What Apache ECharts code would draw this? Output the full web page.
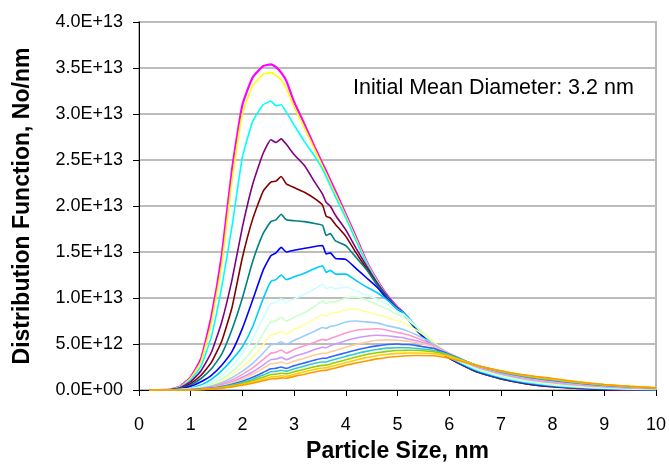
<!DOCTYPE html>
<html>
<head>
<meta charset="utf-8">
<script src="https://cdn.jsdelivr.net/npm/echarts/dist/echarts.min.js"></script>
<style>
html,body{margin:0;padding:0;background:#fff;}
#chart{width:669px;height:468px;}
</style>
</head>
<body>
<div id="chart"></div>
<script>
// Particle size, nm
const xs = [0.2, 0.6, 0.8, 1.0, 1.2, 1.4, 1.6, 1.8, 2.0, 2.2, 2.4, 2.55, 2.65, 2.75, 2.85, 3.0, 3.2, 3.4, 3.55, 3.62, 3.7, 3.8, 4.0, 4.2, 4.4, 4.6, 4.8, 5.0, 5.1, 5.2, 5.4, 5.7, 6.0, 6.5, 7.0, 7.5, 8.0, 8.5, 9.0, 9.5, 10.0];
// Distribution function values, in units of 1e12 No/nm
const UNIT = 1e12;
const magenta = [0, 0.05, 0.4, 1.4, 3.4, 8.0, 14.6, 24.0, 31.0, 34.0, 35.2, 35.4, 35.1, 34.5, 33.6, 31.3, 28.9, 26.4, 24.6, 23.8, 22.8, 21.6, 19.1, 16.6, 14.0, 12.0, 10.3, 9.0, 8.5, 7.9, 6.5, 4.8, 3.5, 2.1, 1.25, 0.7, 0.38, 0.2, 0.1, 0.05, 0.02];
const yellow = [0, 0.05, 0.35, 1.3, 3.1, 7.3, 13.6, 22.8, 30.0, 33.1, 34.3, 34.5, 34.2, 33.7, 32.8, 30.8, 28.5, 26.1, 24.3, 23.5, 22.5, 21.3, 18.9, 16.4, 13.9, 11.9, 10.2, 8.9, 8.5, 7.9, 6.5, 4.8, 3.5, 2.12, 1.27, 0.72, 0.4, 0.21, 0.11, 0.055, 0.025];
const cyan = [0, 0.04, 0.3, 1.1, 2.6, 5.8, 11.2, 17.8, 25.3, 29.2, 31.0, 31.4, 30.9, 31.0, 30.2, 28.8, 27.0, 25.4, 24.0, 23.2, 22.2, 21.0, 18.7, 16.2, 13.8, 11.8, 10.2, 8.9, 8.5, 7.9, 6.5, 4.8, 3.5, 2.13, 1.29, 0.74, 0.42, 0.23, 0.12, 0.06, 0.03];
const purple = [0, 0.03, 0.25, 0.9, 2.1, 4.1, 7.4, 12.0, 17.7, 22.4, 25.7, 27.2, 26.9, 27.3, 26.7, 25.6, 24.4, 22.6, 21.3, 20.4, 20.0, 19.0, 17.4, 15.4, 13.5, 11.7, 10.2, 8.9, 8.5, 7.8, 6.4, 4.75, 3.5, 2.12, 1.27, 0.72, 0.4, 0.21, 0.11, 0.055, 0.025];
const maroon = [0, 0.02, 0.2, 0.7, 1.6, 3.0, 5.3, 9.0, 14.4, 18.6, 21.6, 22.6, 22.7, 23.2, 22.4, 22.0, 21.5, 20.8, 20.1, 18.9, 18.7, 18.0, 16.7, 14.9, 13.2, 11.5, 10.1, 8.8, 8.4, 7.7, 6.3, 4.7, 3.45, 2.05, 1.2, 0.66, 0.35, 0.18, 0.09, 0.04, 0.015];
const teal = [0, 0.02, 0.15, 0.55, 1.25, 2.3, 3.9, 6.6, 10.0, 14.0, 17.0, 18.3, 18.5, 19.1, 18.5, 18.4, 18.3, 18.1, 17.9, 16.8, 17.0, 16.2, 15.7, 14.4, 13.1, 11.5, 10.1, 8.8, 8.4, 7.7, 6.3, 4.7, 3.5, 2.1, 1.26, 0.72, 0.4, 0.21, 0.11, 0.055, 0.025];
const blue = [0, 0.01, 0.1, 0.4, 0.9, 1.6, 2.7, 4.2, 6.7, 9.8, 13.0, 14.6, 14.9, 15.5, 15.0, 15.2, 15.4, 15.6, 15.7, 14.8, 14.9, 14.3, 14.2, 13.2, 12.2, 11.2, 9.9, 8.8, 8.5, 7.8, 6.4, 4.75, 3.5, 2.15, 1.3, 0.75, 0.43, 0.24, 0.13, 0.065, 0.03];
const skyblue = [0, 0.01, 0.07, 0.22, 0.55, 1.15, 2.1, 3.3, 4.7, 6.9, 9.9, 11.8, 12.0, 12.5, 12.0, 12.3, 12.7, 13.2, 13.5, 12.8, 13.0, 12.6, 12.6, 11.9, 11.2, 10.6, 9.8, 8.8, 8.5, 7.9, 6.6, 4.9, 3.55, 2.2, 1.35, 0.8, 0.47, 0.27, 0.15, 0.08, 0.04];
const lightcyan = [0, 0.01, 0.05, 0.16, 0.4, 0.85, 1.55, 2.6, 4.0, 5.6, 7.8, 9.4, 9.5, 9.9, 9.5, 9.9, 10.4, 11.0, 11.5, 11.0, 11.2, 11.0, 11.2, 10.8, 10.3, 9.9, 9.3, 8.5, 8.3, 7.8, 6.7, 5.1, 3.65, 2.3, 1.45, 0.9, 0.55, 0.33, 0.2, 0.11, 0.06];
const lightgreen = [0, 0.01, 0.04, 0.12, 0.3, 0.65, 1.2, 2.0, 3.1, 4.4, 6.1, 7.4, 7.5, 7.9, 7.5, 7.9, 8.4, 9.1, 9.7, 9.4, 9.6, 9.6, 10.0, 10.1, 9.8, 9.3, 8.8, 8.2, 8.0, 7.6, 6.7, 5.2, 3.75, 2.4, 1.55, 1.0, 0.63, 0.39, 0.24, 0.14, 0.08];
const lightyellow = [0, 0.01, 0.03, 0.09, 0.24, 0.52, 0.98, 1.65, 2.5, 3.55, 4.9, 6.0, 6.1, 6.4, 6.1, 6.6, 7.1, 7.7, 8.2, 8.0, 8.3, 8.4, 8.7, 8.8, 8.5, 8.2, 7.9, 7.5, 7.35, 7.05, 6.4, 5.2, 3.85, 2.5, 1.65, 1.08, 0.7, 0.45, 0.28, 0.17, 0.1];
const lightblue = [0, 0.01, 0.02, 0.07, 0.19, 0.42, 0.8, 1.35, 2.05, 2.9, 4.0, 4.9, 5.0, 5.25, 4.95, 5.4, 5.9, 6.4, 6.8, 6.7, 6.9, 7.0, 7.4, 7.5, 7.4, 7.3, 7.0, 6.75, 6.6, 6.4, 5.9, 5.0, 3.9, 2.55, 1.72, 1.15, 0.78, 0.51, 0.33, 0.2, 0.12];
const pink = [0, 0.005, 0.02, 0.06, 0.16, 0.35, 0.65, 1.1, 1.7, 2.4, 3.3, 4.0, 4.1, 4.35, 4.0, 4.4, 4.8, 5.2, 5.5, 5.4, 5.6, 5.8, 6.2, 6.5, 6.6, 6.65, 6.5, 6.25, 6.15, 6.0, 5.6, 4.85, 3.95, 2.62, 1.8, 1.22, 0.85, 0.57, 0.38, 0.24, 0.14];
const lavender = [0, 0.005, 0.01, 0.05, 0.13, 0.29, 0.54, 0.9, 1.38, 1.95, 2.7, 3.3, 3.35, 3.55, 3.3, 3.65, 4.0, 4.4, 4.65, 4.6, 4.8, 5.0, 5.35, 5.65, 5.85, 5.95, 5.9, 5.75, 5.7, 5.55, 5.3, 4.75, 4.0, 2.68, 1.86, 1.3, 0.92, 0.63, 0.42, 0.28, 0.17];
const peach = [0, 0.005, 0.01, 0.04, 0.11, 0.25, 0.47, 0.78, 1.2, 1.7, 2.35, 2.85, 2.9, 3.05, 2.85, 3.15, 3.45, 3.8, 4.0, 4.0, 4.15, 4.3, 4.65, 4.95, 5.2, 5.4, 5.45, 5.4, 5.35, 5.3, 5.1, 4.7, 3.95, 2.72, 1.92, 1.36, 0.98, 0.68, 0.46, 0.31, 0.19];
const royalblue = [0, 0.005, 0.01, 0.03, 0.09, 0.2, 0.38, 0.63, 0.96, 1.38, 1.9, 2.3, 2.35, 2.5, 2.35, 2.65, 2.95, 3.25, 3.45, 3.45, 3.6, 3.75, 4.05, 4.35, 4.6, 4.8, 4.95, 5.0, 4.95, 4.95, 4.8, 4.5, 3.9, 2.74, 1.97, 1.42, 1.04, 0.73, 0.5, 0.33, 0.2];
const turquoise = [0, 0.005, 0.01, 0.03, 0.08, 0.17, 0.32, 0.54, 0.82, 1.18, 1.62, 1.98, 2.02, 2.15, 2.05, 2.3, 2.6, 2.9, 3.05, 3.05, 3.2, 3.35, 3.65, 3.95, 4.2, 4.4, 4.55, 4.6, 4.6, 4.6, 4.5, 4.3, 3.8, 2.74, 2.0, 1.47, 1.09, 0.77, 0.53, 0.36, 0.22];
const green = [0, 0.005, 0.005, 0.02, 0.06, 0.14, 0.27, 0.46, 0.7, 1.0, 1.38, 1.68, 1.72, 1.82, 1.75, 1.98, 2.25, 2.52, 2.68, 2.7, 2.82, 2.98, 3.28, 3.58, 3.85, 4.05, 4.2, 4.3, 4.3, 4.32, 4.3, 4.15, 3.75, 2.73, 2.03, 1.52, 1.14, 0.81, 0.56, 0.37, 0.23];
const gold = [0, 0.005, 0.005, 0.02, 0.05, 0.12, 0.23, 0.39, 0.6, 0.86, 1.17, 1.42, 1.45, 1.55, 1.5, 1.72, 1.98, 2.24, 2.4, 2.42, 2.54, 2.68, 2.98, 3.26, 3.52, 3.72, 3.88, 3.98, 4.0, 4.02, 4.02, 3.95, 3.65, 2.72, 2.07, 1.56, 1.19, 0.85, 0.58, 0.39, 0.24];
const orange = [0, 0.004, 0.004, 0.015, 0.045, 0.1, 0.2, 0.34, 0.52, 0.74, 1.0, 1.2, 1.23, 1.32, 1.28, 1.48, 1.72, 1.96, 2.12, 2.15, 2.26, 2.4, 2.68, 2.94, 3.16, 3.38, 3.54, 3.64, 3.68, 3.72, 3.75, 3.72, 3.45, 2.7, 2.1, 1.6, 1.25, 0.88, 0.6, 0.4, 0.25];

const seriesList = [magenta, yellow, cyan, purple, maroon, teal, blue, skyblue, lightcyan, lightgreen, lightyellow, lightblue, pink, lavender, peach, royalblue, turquoise, green, gold, orange];
const colors = ['#ff00ff','#ffff00','#00ffff','#800080','#800000','#008080','#0000ff','#00ccff','#ccffff','#ccffcc','#ffff99','#99ccff','#ff99cc','#cc99ff','#ffcc99','#3366ff','#33cccc','#99cc00','#ffcc00','#ff9900'];

const xTicks = [0,1,2,3,4,5,6,7,8,9,10];
const annotation = 'Initial Mean Diameter: 3.2 nm';
const FONT = "'Liberation Sans', Arial, sans-serif";

function sci(v) {
  if (v === 0) return '0.0E+00';
  const e = Math.floor(Math.log10(v) + 1e-9);
  const m = v / Math.pow(10, e);
  const es = (e < 0 ? '-' : '+') + String(Math.abs(e)).padStart(2, '0');
  return m.toFixed(1) + 'E' + es;
}

const chart = echarts.init(document.getElementById('chart'), null, {renderer: 'canvas'});
const option = {
  animation: false,
  backgroundColor: '#ffffff',
  grid: {left: 139, right: 11, top: 22, bottom: 78, show: true, borderColor: '#b8b8b8', borderWidth: 2, backgroundColor: 'transparent'},
  xAxis: {
    type: 'value', min: 0, max: 10, interval: 1,
    name: 'Particle Size, nm', nameLocation: 'middle', nameGap: 50,
    nameTextStyle: {fontFamily: FONT, fontWeight: 'bold', fontSize: 23, color: '#000'},
    axisLine: {show: true, lineStyle: {color: '#000', width: 1}},
    axisTick: {show: true, inside: false, length: 6, lineStyle: {color: '#000'}},
    axisLabel: {fontFamily: FONT, fontSize: 18, color: '#000', margin: 26, formatter: v => xTicks.includes(v) ? String(v) : ''},
    splitLine: {show: false}
  },
  yAxis: {
    type: 'value', min: 0, max: 4e13, interval: 5e12,
    name: 'Distribution Function, No/nm', nameLocation: 'middle', nameGap: 105,
    nameTextStyle: {fontFamily: FONT, fontWeight: 'bold', fontSize: 23, color: '#000'},
    axisLine: {show: true, lineStyle: {color: '#000', width: 1}},
    axisTick: {show: true, inside: false, length: 6, lineStyle: {color: '#000'}},
    axisLabel: {fontFamily: FONT, fontSize: 18, color: '#000', margin: 16, formatter: v => sci(v)},
    splitLine: {show: true, lineStyle: {color: '#bcbcbc', width: 2}}
  },
  graphic: [{
    type: 'text', left: 353, top: 77,
    style: {text: annotation, fontFamily: FONT, fontSize: 21.5, fill: '#000'}
  }],
  series: seriesList.map((arr, i) => ({
    type: 'line',
    name: 'S' + (i + 1),
    showSymbol: false,
    symbol: 'none',
    smooth: 0.15,
    lineStyle: {color: colors[i], width: i === 0 ? 2.2 : 1.6},
    itemStyle: {color: colors[i]},
    data: xs.map((x, j) => [x, arr[j] * UNIT])
  }))
};
chart.setOption(option);
</script>
</body>
</html>
